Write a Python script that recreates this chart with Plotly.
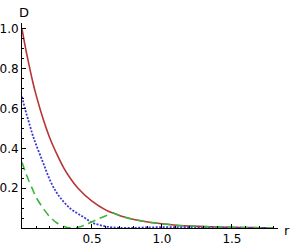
import plotly.graph_objects as go

# Red solid curve
r_red = [0, 0.025, 0.05, 0.075, 0.1, 0.15, 0.2, 0.25, 0.3, 0.35, 0.4, 0.5, 0.6, 0.65,
         0.7, 0.8, 0.9, 1.0, 1.1, 1.2, 1.3, 1.4, 1.5, 1.6, 1.7, 1.8]
d_red = [1.0, 0.905, 0.82, 0.74, 0.67, 0.55, 0.45, 0.37, 0.30, 0.245, 0.20, 0.135, 0.090, 0.075,
         0.062, 0.043, 0.030, 0.021, 0.014, 0.010, 0.007, 0.005, 0.003, 0.002, 0.0015, 0.001]

# Blue dotted curve
r_blue = [0, 0.025, 0.05, 0.075, 0.1, 0.15, 0.2, 0.25, 0.3, 0.35, 0.4, 0.45, 0.5, 0.55,
          0.6, 0.65, 0.7, 0.8, 0.9, 1.0, 1.1, 1.2, 1.3, 1.4, 1.6, 1.8]
d_blue = [0.66, 0.59, 0.53, 0.47, 0.42, 0.33, 0.24, 0.175, 0.13, 0.095, 0.072, 0.05, 0.027, 0.016,
          0.008, 0.003, 0.0005, 0.001, 0.003, 0.004, 0.004, 0.004, 0.003, 0.002, 0.001, 0.0003]

# Green dashed curve
r_green = [0, 0.025, 0.05, 0.075, 0.1, 0.15, 0.2, 0.25, 0.3, 0.35, 0.4, 0.45, 0.5, 0.55,
           0.6, 0.65, 0.7, 0.8, 0.9, 1.0, 1.1, 1.2, 1.3, 1.4, 1.5, 1.6, 1.8]
d_green = [0.33, 0.28, 0.235, 0.195, 0.155, 0.10, 0.055, 0.025, 0.007, 0.0, 0.004, 0.015, 0.031, 0.048,
           0.062, 0.075, 0.062, 0.043, 0.030, 0.021, 0.014, 0.010, 0.007, 0.005, 0.003, 0.002, 0.001]

x_ticks = [0.5, 1.0, 1.5]
x_labels = ["0.5", "1.0", "1.5"]
y_ticks = [0.2, 0.4, 0.6, 0.8, 1.0]
y_labels = ["0.2", "0.4", "0.6", "0.8", "1.0"]

fig = go.Figure()
fig.add_trace(go.Scatter(x=r_red, y=d_red, mode="lines",
                         line=dict(color="#B83434", width=1.6, shape="spline")))
fig.add_trace(go.Scatter(x=r_blue, y=d_blue, mode="lines",
                         line=dict(color="#3A3ACC", width=1.8, dash="2px,1.5px", shape="spline")))
fig.add_trace(go.Scatter(x=r_green, y=d_green, mode="lines",
                         line=dict(color="#3CB43C", width=1.6, dash="8px,5px", shape="spline",
                                   smoothing=0.6)))

font = dict(family="DejaVu Sans", size=12, color="black")
fig.update_layout(
    width=291, height=246,
    margin=dict(l=22, r=13, t=23, b=18, autoexpand=False),
    paper_bgcolor="white", plot_bgcolor="white",
    showlegend=False,
    font=font,
    xaxis=dict(range=[0, 1.829], showgrid=False, zeroline=False, showline=True, automargin=False,
               linecolor="black", linewidth=1, ticks="inside", ticklen=4, tickcolor="black",
               tickvals=x_ticks, ticktext=x_labels, tickfont=font, ticklabelstandoff=0,
               minor=dict(dtick=0.1, tick0=0, ticks="inside", ticklen=2, tickcolor="black",
                          showgrid=False)),
    yaxis=dict(range=[0, 1.03], showgrid=False, zeroline=False, showline=True, automargin=False,
               linecolor="black", linewidth=1, ticks="inside", ticklen=4, tickcolor="black",
               tickvals=y_ticks, ticktext=y_labels, tickfont=font, ticklabelstandoff=0,
               minor=dict(dtick=0.05, tick0=0, ticks="inside", ticklen=2, tickcolor="black",
                          showgrid=False)),
    annotations=[
        dict(text="D", xref="paper", yref="paper", x=0.0, y=1.0, xanchor="center", yanchor="middle",
             xshift=2, yshift=11, showarrow=False,
             font=dict(family="DejaVu Sans", size=13, color="black")),
        dict(text="r", xref="paper", yref="paper", x=1.0, y=0.0, xanchor="center", yanchor="middle",
             xshift=9, yshift=-2, showarrow=False,
             font=dict(family="DejaVu Sans", size=13, color="black")),
    ],
)

fig.write_html("out.html", config={"displayModeBar": False},
               post_script="document.body.style.margin='0px';")
